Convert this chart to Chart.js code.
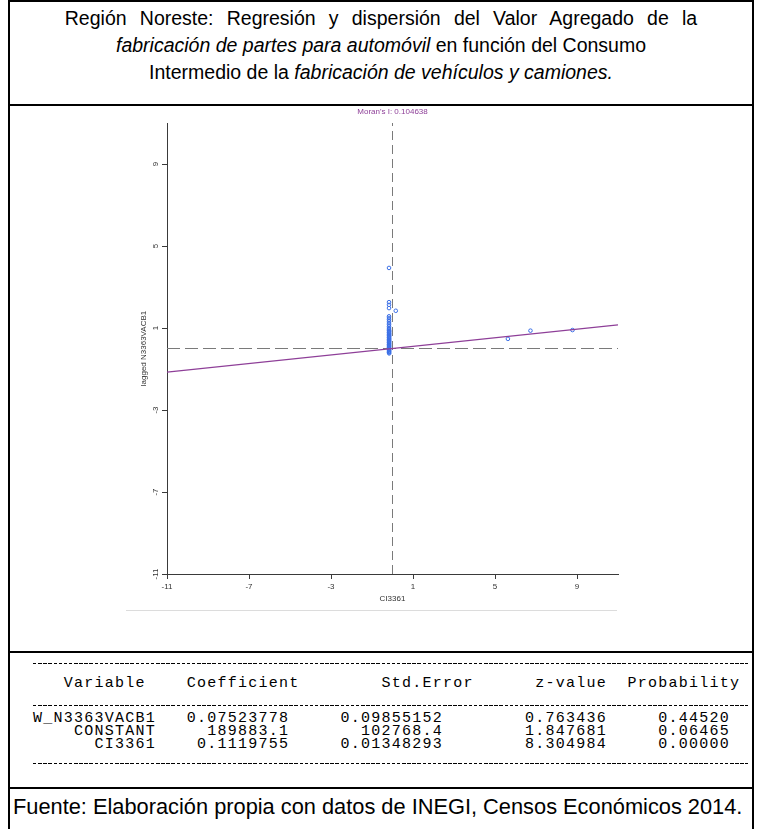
<!DOCTYPE html>
<html lang="es">
<head>
<meta charset="utf-8">
<title>Región Noreste: Moran scatter plot</title>
<script src="https://cdn.jsdelivr.net/npm/chart.js@4.4.1/dist/chart.umd.min.js"></script>
<style>
  html, body { margin: 0; padding: 0; background: #fff; }
  body { width: 761px; height: 829px; position: relative; overflow: hidden;
         font-family: "Liberation Sans", Arial, sans-serif; color: #000; }
  .rule { position: absolute; background: #000; }
  #title { position: absolute; left: 10px; width: 742px; top: 5px; text-align: center;
           font-size: 19.5px; line-height: 27px; white-space: nowrap; }
  #title .wide { word-spacing: 7.8px; }
  #plot { position: absolute; left: 100px; top: 106px; }
  #base { position: absolute; left: 126px; top: 610px; width: 491px; height: 1px; background: #dcdcdc; }
  .mono { position: absolute; left: 33px; margin: 0; white-space: pre;
          font-family: "Liberation Mono", "Courier New", monospace; font-size: 15px;
          letter-spacing: 1.25px; line-height: 13px; }
  .dash { position: absolute; left: 33px; width: 715px; height: 1px;
          background: repeating-linear-gradient(to right, #000 0 3.5px, transparent 3.5px 5.125px); }
  #source { position: absolute; left: 13px; top: 796px; font-size: 21.8px; line-height: 22px;
            white-space: nowrap; }
</style>
</head>
<body>
  <div class="rule" style="left:8px;top:0;width:746px;height:2px"></div>
  <div class="rule" style="left:8px;top:0;width:2px;height:829px"></div>
  <div class="rule" style="left:752px;top:0;width:2px;height:829px"></div>
  <div class="rule" style="left:8px;top:104px;width:746px;height:2px"></div>
  <div class="rule" style="left:8px;top:651px;width:746px;height:2px"></div>
  <div class="rule" style="left:8px;top:787px;width:746px;height:2px"></div>

  <div id="title"><span class="wide">Región Noreste: Regresión y dispersión del Valor Agregado de la</span><br>
    <i>fabricación de partes para automóvil</i> en función del Consumo<br>
    Intermedio de la <i>fabricación de vehículos y camiones.</i></div>

  <canvas id="plot" width="560" height="530"></canvas>
  <div id="base"></div>

  <div id="table"></div>

  <div id="source">Fuente: Elaboración propia con datos de INEGI, Censos Económicos 2014.</div>

<script>
// Moran's I for the standardized variables (slope of the regression line)
const moranI = 0.104638;

// Axis range and tick labels (standardized units)
const axisMin = -11;
const axisMax = 11;
const xTicks = [-11, -7, -3, 1, 5, 9];
const yTicks = [-11, -7, -3, 1, 5, 9];

// Standardized Intermediate Consumption (CI3361) per municipality
const ci3361 = [
  -0.17, -0.17, -0.17, -0.17, 0.16, 5.63, 6.73, 8.78,
  -0.17, -0.17, -0.17, -0.17, -0.17, -0.17, -0.17, -0.17, -0.17,
  -0.17, -0.16, -0.17, -0.17, -0.16, -0.17, -0.17, -0.16, -0.17, -0.17,
  -0.16, -0.17, -0.17, -0.16, -0.17, -0.17, -0.16, -0.17, -0.17, -0.16,
  -0.17, -0.17, -0.16, -0.17, -0.17, -0.16, -0.17, -0.17, -0.16
];

// Spatially lagged standardized Value Added (lagged N3363VACB1)
const laggedVA = [
  3.93, 2.26, 2.13, 1.97, 1.84, 0.47, 0.87, 0.90,
  1.57, 1.49, 1.41, 1.33, 1.24, 1.16, 1.08, 1.00, 0.94,
  0.88, 0.84, 0.80, 0.76, 0.72, 0.68, 0.64, 0.60, 0.56, 0.52,
  0.48, 0.44, 0.40, 0.36, 0.32, 0.28, 0.24, 0.20, 0.16, 0.12,
  0.08, 0.04, 0.00, -0.04, -0.08, -0.12, -0.16, -0.20, -0.24
];

// Regression table (spatial lag model output)
const tableHeader = ["Variable", "Coefficient", "Std.Error", "z-value", "Probability"];
const tableVars   = ["W_N3363VACB1", "CONSTANT", "CI3361"];
const tableCoef   = ["0.07523778", "189883.1", "0.1119755"];
const tableStdErr = ["0.09855152", "102768.4", "0.01348293"];
const tableZ      = ["0.763436", "1.847681", "8.304984"];
const tableProb   = ["0.44520", "0.06465", "0.00000"];

// ---- text table -------------------------------------------------------
const headerEnds = [11, 26, 43, 56, 69];
const rowEnds = [12, 25, 40, 56, 68];
function placeRight(cells, ends) {
  let s = "";
  cells.forEach((c, i) => { s = s.padEnd(ends[i] - c.length) + c; });
  return s;
}
const tableBox = document.getElementById("table");
function addLine(text, top) {
  const p = document.createElement("pre");
  p.className = "mono";
  p.style.top = top + "px";
  p.textContent = text;
  tableBox.appendChild(p);
}
function addRule(top) {
  const d = document.createElement("div");
  d.className = "dash";
  d.style.top = top + "px";
  tableBox.appendChild(d);
}
addRule(663);
addLine(placeRight(tableHeader, headerEnds), 677);
addRule(705);
tableVars.forEach((v, i) => {
  addLine(placeRight([v, tableCoef[i], tableStdErr[i], tableZ[i], tableProb[i]], rowEnds), 712 + i * 13);
});
addRule(763);

// ---- chart ------------------------------------------------------------
const FONT = '"Liberation Sans", Arial, sans-serif';
const points = ci3361.map((x, i) => ({ x: x, y: laggedVA[i] }));
const fitLine = [axisMin, axisMax].map(x => ({ x: x, y: moranI * x }));
const meanX = [{ x: 0, y: axisMin }, { x: 0, y: axisMax }];
const meanY = [{ x: axisMin, y: 0 }, { x: axisMax, y: 0 }];

const moranLabel = {
  id: "moranLabel",
  afterDraw(chart) {
    const { ctx, chartArea } = chart;
    ctx.save();
    ctx.font = "8px " + FONT;
    ctx.fillStyle = "#8e3f98";
    ctx.textAlign = "center";
    ctx.textBaseline = "middle";
    ctx.fillText("Moran's I: " + moranI.toFixed(6), (chartArea.left + chartArea.right) / 2, 6);
    ctx.restore();
  }
};

const axisColor = "#3a3a3a";
function axisTicks(list) {
  return scale => { scale.ticks = list.map(v => ({ value: v })); };
}

new Chart(document.getElementById("plot"), {
  data: {
    datasets: [
      { type: "line", data: fitLine, borderColor: "#8e3f98", borderWidth: 1.2,
        pointRadius: 0, order: 0 },
      { type: "scatter", data: points, pointStyle: "circle", pointRadius: 1.8,
        borderWidth: 1, borderColor: "#3b6fe6", backgroundColor: "rgba(0,0,0,0)", order: 1 },
      { type: "line", data: meanX, borderColor: "#7a7a7a", borderWidth: 1,
        borderDash: [9, 5], pointRadius: 0, order: 2 },
      { type: "line", data: meanY, borderColor: "#7a7a7a", borderWidth: 1,
        borderDash: [13, 5], pointRadius: 0, order: 2 }
    ]
  },
  options: {
    responsive: false,
    devicePixelRatio: 1,
    animation: false,
    layout: { padding: { left: 37, right: 42, top: 17, bottom: 22 } },
    plugins: { legend: { display: false }, tooltip: { enabled: false } },
    scales: {
      x: {
        type: "linear", min: axisMin, max: axisMax,
        afterBuildTicks: axisTicks(xTicks),
        afterFit: s => { s.height = 40; },
        grid: { display: true, drawOnChartArea: false, drawTicks: true, tickLength: 5, color: axisColor },
        border: { display: true, color: axisColor, width: 1 },
        ticks: { font: { family: FONT, size: 8 }, color: "#333", padding: 3,
                 maxRotation: 0, minRotation: 0, autoSkip: false },
        title: { display: true, text: "CI3361", font: { family: FONT, size: 8 }, color: "#333",
                 padding: { top: 0, bottom: 10 } }
      },
      y: {
        type: "linear", min: axisMin, max: axisMax,
        afterBuildTicks: axisTicks(yTicks),
        afterFit: s => { s.width = 30; },
        grid: { display: true, drawOnChartArea: false, drawTicks: true, tickLength: 5, color: axisColor },
        border: { display: true, color: axisColor, width: 1 },
        ticks: { font: { family: FONT, size: 8 }, color: "#333", padding: 1,
                 minRotation: 90, maxRotation: 90, crossAlign: "center", autoSkip: false },
        title: { display: true, text: "lagged N3363VACB1", font: { family: FONT, size: 8 }, color: "#333",
                 padding: { top: 2, bottom: 0 } }
      }
    }
  },
  plugins: [moranLabel]
});
</script>
</body>
</html>
